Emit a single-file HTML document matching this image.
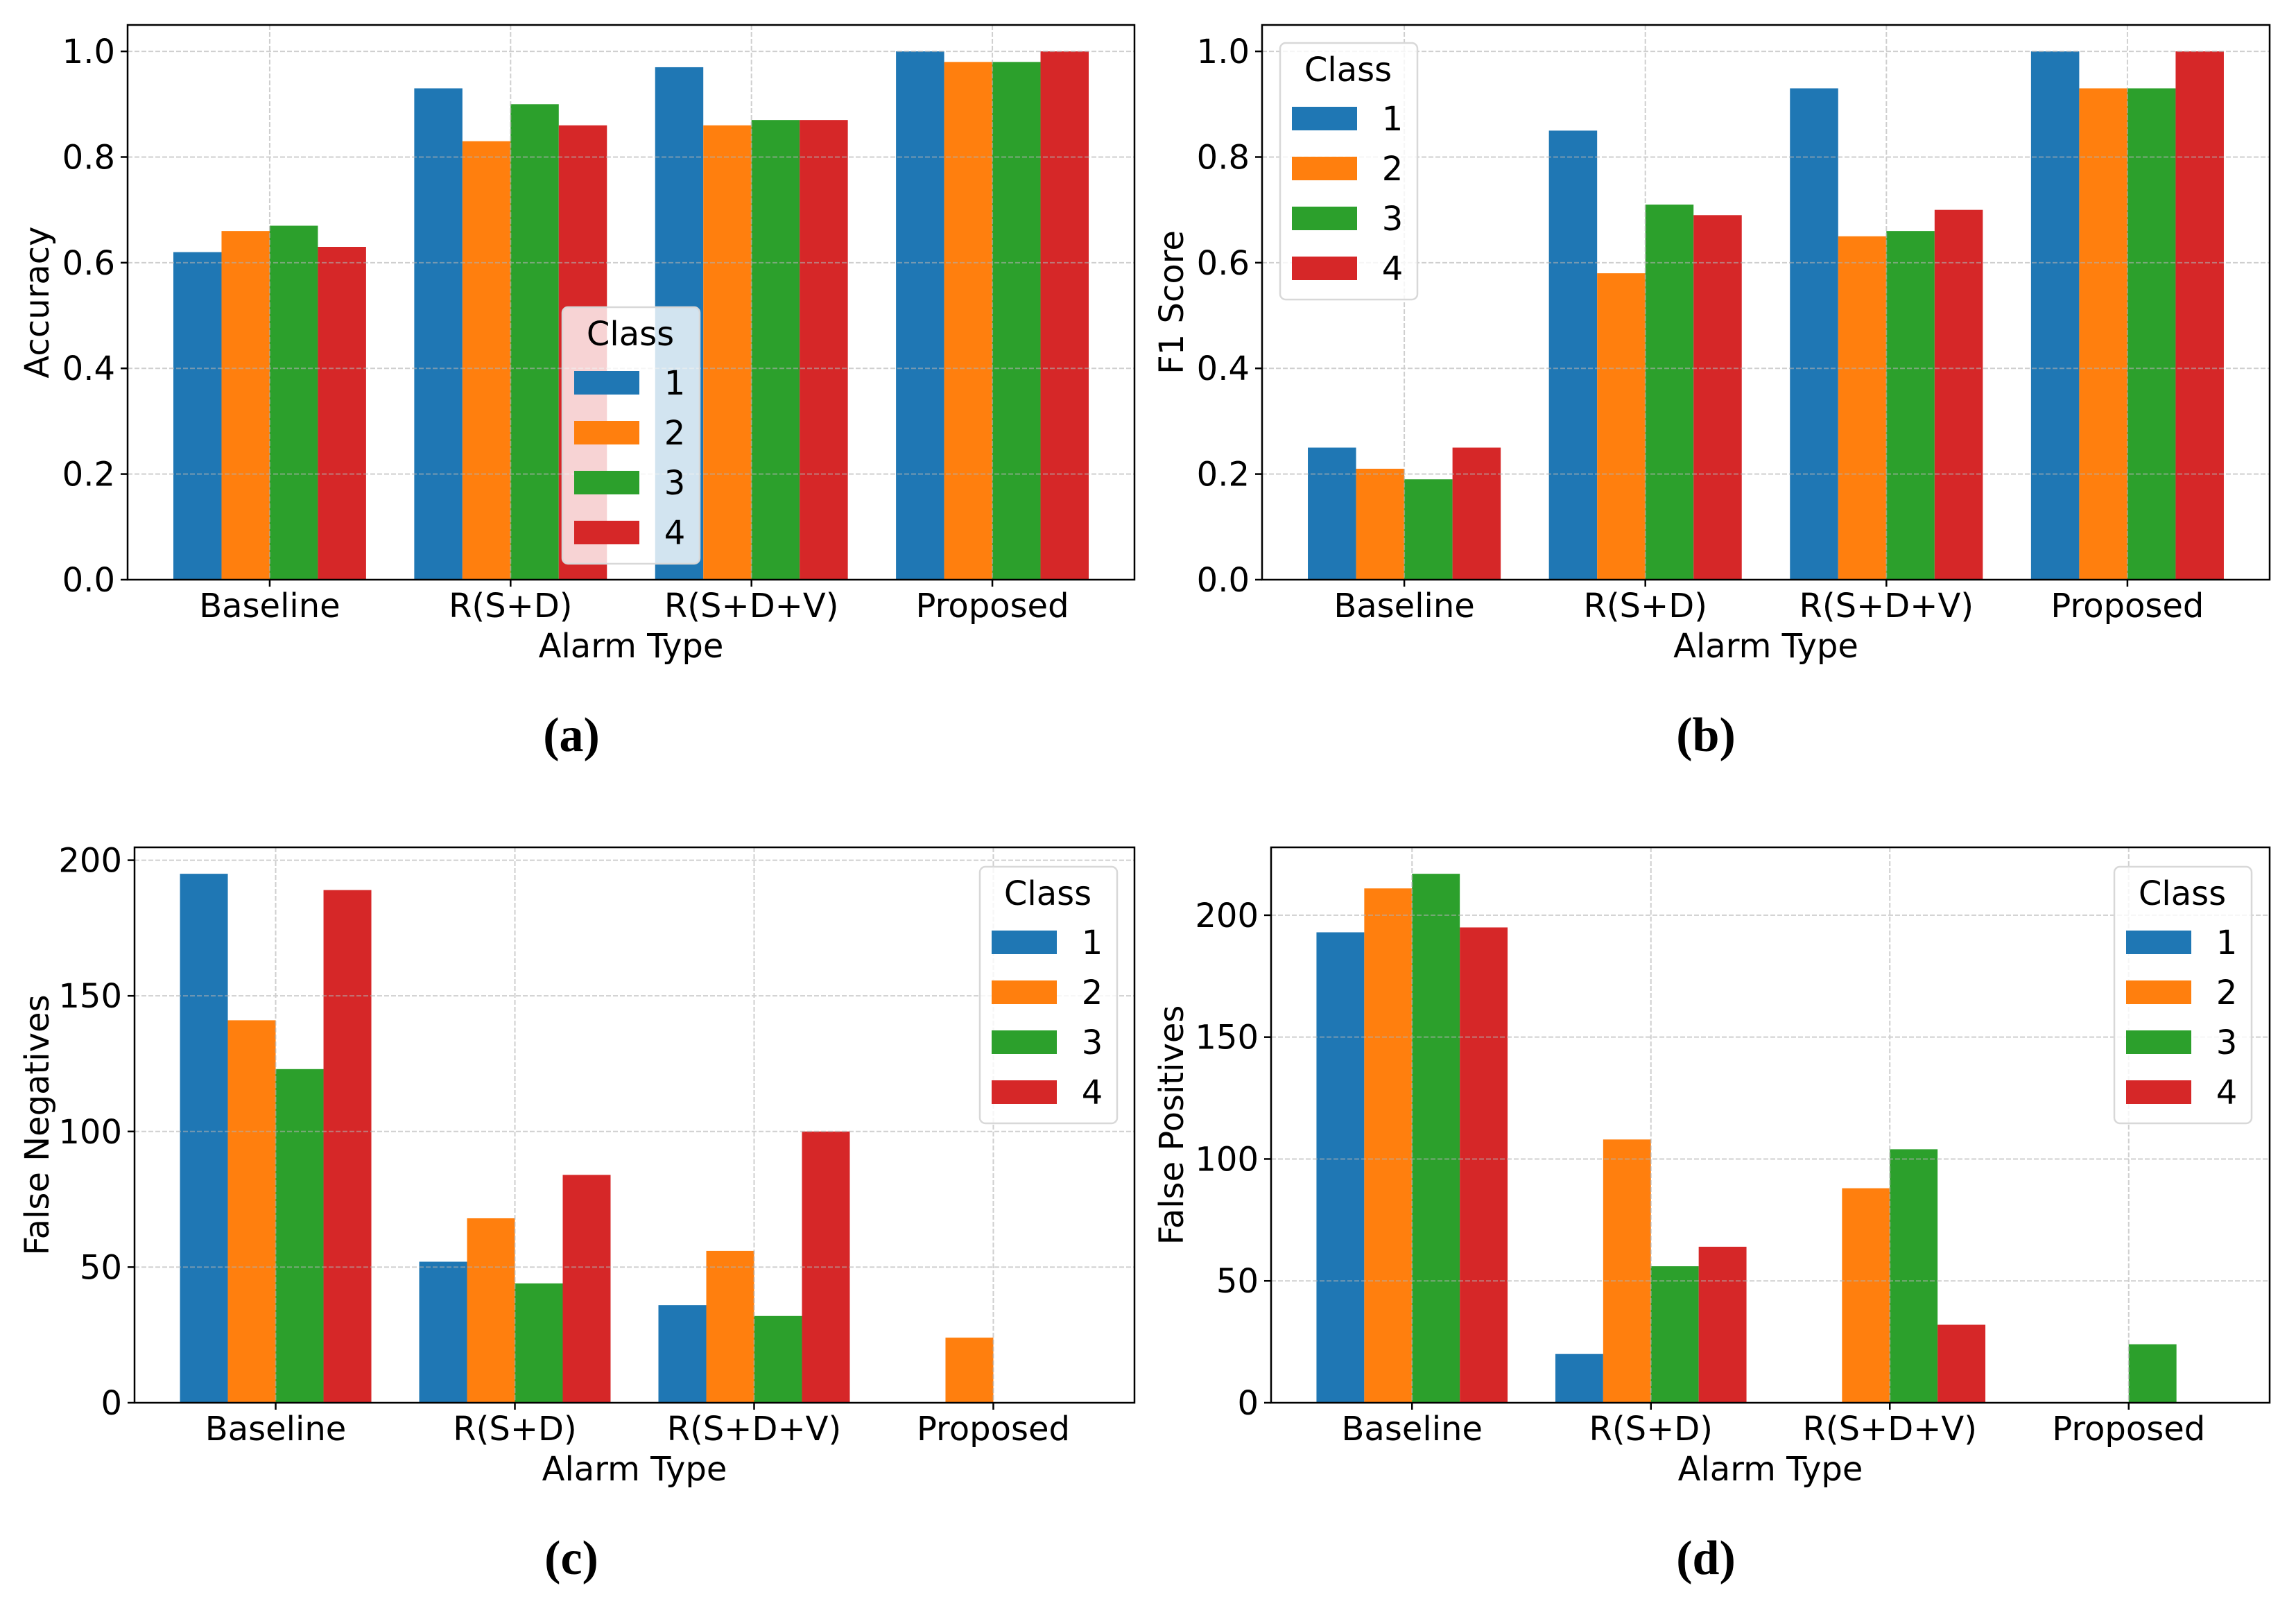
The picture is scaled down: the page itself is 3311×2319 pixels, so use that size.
<!DOCTYPE html>
<html><head><meta charset="utf-8"><style>
html,body{margin:0;padding:0;background:#fff;}
svg{display:block;}
text{font-family:"DejaVu Sans","Liberation Sans",sans-serif;fill:#000;}
.cap{font-family:"Liberation Serif","DejaVu Serif",serif;font-weight:bold;}
</style></head><body>
<svg id="fig" width="3311" height="2319" viewBox="0 0 3311 2319" xmlns="http://www.w3.org/2000/svg"></svg>
<script>
const categories = ["Baseline", "R(S+D)", "R(S+D+V)", "Proposed"];
const classes = ["1", "2", "3", "4"];
const colors = ["#1f77b4", "#ff7f0e", "#2ca02c", "#d62728"];
// Accuracy per class (series = class, index = category)
const accC1 = [0.62, 0.93, 0.97, 1.00];
const accC2 = [0.66, 0.83, 0.86, 0.98];
const accC3 = [0.67, 0.90, 0.87, 0.98];
const accC4 = [0.63, 0.86, 0.87, 1.00];
// F1 score
const f1C1 = [0.25, 0.85, 0.93, 1.00];
const f1C2 = [0.21, 0.58, 0.65, 0.93];
const f1C3 = [0.19, 0.71, 0.66, 0.93];
const f1C4 = [0.25, 0.69, 0.70, 1.00];
// False negatives
const fnC1 = [195, 52, 36, 0];
const fnC2 = [141, 68, 56, 24];
const fnC3 = [123, 44, 32, 0];
const fnC4 = [189, 84, 100, 0];
// False positives
const fpC1 = [193, 20, 0, 0];
const fpC2 = [211, 108, 88, 0];
const fpC3 = [217, 56, 104, 24];
const fpC4 = [195, 64, 32, 0];
const tickAcc = [0.0, 0.2, 0.4, 0.6, 0.8, 1.0];
const tickAccLabels = ["0.0", "0.2", "0.4", "0.6", "0.8", "1.0"];
const tickFN = [0, 50, 100, 150, 200];
const tickFNLabels = ["0", "50", "100", "150", "200"];
const tickFP = [0, 50, 100, 150, 200];
const tickFPLabels = ["0", "50", "100", "150", "200"];

const NS = "http://www.w3.org/2000/svg";
const fig = document.getElementById("fig");
function mk(tag, attrs, parent, txt) {
  const e = document.createElementNS(NS, tag);
  for (const k in attrs) e.setAttribute(k, attrs[k]);
  if (txt !== undefined) e.textContent = txt;
  (parent || fig).appendChild(e);
  return e;
}

function panel(cfg) {
  const g = mk("g", {});
  
  
  const L = cfg.L, R = cfg.R, T = cfg.T, B = cfg.B;
  const ymax = Math.max(...cfg.series.flat()) * 1.05;
  const xmin = -0.59, xmax = 3.59;
  const xs = v => L + (v - xmin) / (xmax - xmin) * (R - L);
  const ys = v => B - v / ymax * (B - T);
  const bw = 0.2;
  cfg.series.forEach((ser, si) => {
    ser.forEach((v, ci) => {
      const x0 = xs(ci + (si - 1.5) * bw - bw / 2), x1 = xs(ci + (si - 1.5) * bw + bw / 2);
      const r = mk("rect", {x: x0, y: ys(v), width: x1 - x0, height: B - ys(v), fill: colors[si]}, g);
      
      
    });
  });
  const grid = mk("g", {stroke: "#b0b0b0", "stroke-width": 2, "stroke-dasharray": "7,3", opacity: 0.6}, g);
  
  
  cfg.ticks.forEach(t => mk("line", {x1: L, x2: R, y1: ys(t), y2: ys(t)}, grid));
  categories.forEach((c, i) => mk("line", {x1: xs(i), x2: xs(i), y1: T, y2: B}, grid));
  const fr = mk("rect", {x: L, y: T, width: R - L, height: B - T, fill: "none", stroke: "#000", "stroke-width": 2.5}, g);
  
  
  cfg.ticks.forEach((t, i) => {
    mk("line", {x1: L - 10, x2: L, y1: ys(t), y2: ys(t), stroke: "#000", "stroke-width": 2.5}, g);
    const tx = mk("text", {x: L - 18, y: ys(t) + 17, "font-size": 48, "text-anchor": "end"}, g, cfg.tickLabels[i]);
    
    
  });
  categories.forEach((c, i) => {
    mk("line", {x1: xs(i), x2: xs(i), y1: B, y2: B + 10, stroke: "#000", "stroke-width": 2.5}, g);
    const tx = mk("text", {x: xs(i), y: B + 54, "font-size": 48, "text-anchor": "middle"}, g, c);
    
    
  });
  const xl = mk("text", {x: (L + R) / 2, y: B + 112, "font-size": 48, "text-anchor": "middle"}, g, "Alarm Type");
  
  
  const yl = mk("text", {x: 0, y: 0, "font-size": 48, "text-anchor": "middle", transform: "translate(" + cfg.ylx + "," + (T + B) / 2 + ") rotate(-90)"}, g, cfg.ylabel);
  
  
  const lg = mk("g", {}, g);
  
  
  const lx = cfg.legX, ly = cfg.legY;
  mk("rect", {x: lx, y: ly, width: 198, height: 370, rx: 8, fill: "#fff", "fill-opacity": 0.8, stroke: "#d8d8d8", "stroke-width": 2.5}, lg);
  mk("text", {x: lx + 98, y: ly + 55, "font-size": 48, "text-anchor": "middle"}, lg, "Class");
  classes.forEach((c, i) => {
    const ent = mk("g", {}, lg);
    
    
    mk("rect", {x: lx + 17, y: ly + 92 + i * 72, width: 94, height: 34, fill: colors[i]}, ent);
    mk("text", {x: lx + 162, y: ly + 126 + i * 72, "font-size": 48, "text-anchor": "middle"}, ent, c);
  });
  const cap = mk("text", {x: cfg.capX, y: cfg.capY, "font-size": 70, "text-anchor": "middle", "class": "cap"}, g, cfg.cap);
  
  
}

panel({name: "accuracy-chart", L: 184, R: 1636, T: 36, B: 836, series: [accC1, accC2, accC3, accC4],
  ticks: tickAcc, tickLabels: tickAccLabels, ylabel: "Accuracy", ylx: 70, legX: 811, legY: 443, cap: "(a)", capX: 824, capY: 1083});
panel({name: "f1-score-chart", L: 1820, R: 3273, T: 36, B: 836, series: [f1C1, f1C2, f1C3, f1C4],
  ticks: tickAcc, tickLabels: tickAccLabels, ylabel: "F1 Score", ylx: 1706, legX: 1846, legY: 62, cap: "(b)", capX: 2460, capY: 1083});
panel({name: "false-negatives-chart", L: 194, R: 1636, T: 1222, B: 2023, series: [fnC1, fnC2, fnC3, fnC4],
  ticks: tickFN, tickLabels: tickFNLabels, ylabel: "False Negatives", ylx: 70, legX: 1413, legY: 1250, cap: "(c)", capX: 824, capY: 2270});
panel({name: "false-positives-chart", L: 1833, R: 3273, T: 1222, B: 2023, series: [fpC1, fpC2, fpC3, fpC4],
  ticks: tickFP, tickLabels: tickFPLabels, ylabel: "False Positives", ylx: 1706, legX: 3049, legY: 1250, cap: "(d)", capX: 2460, capY: 2270});
</script>
</body></html>
